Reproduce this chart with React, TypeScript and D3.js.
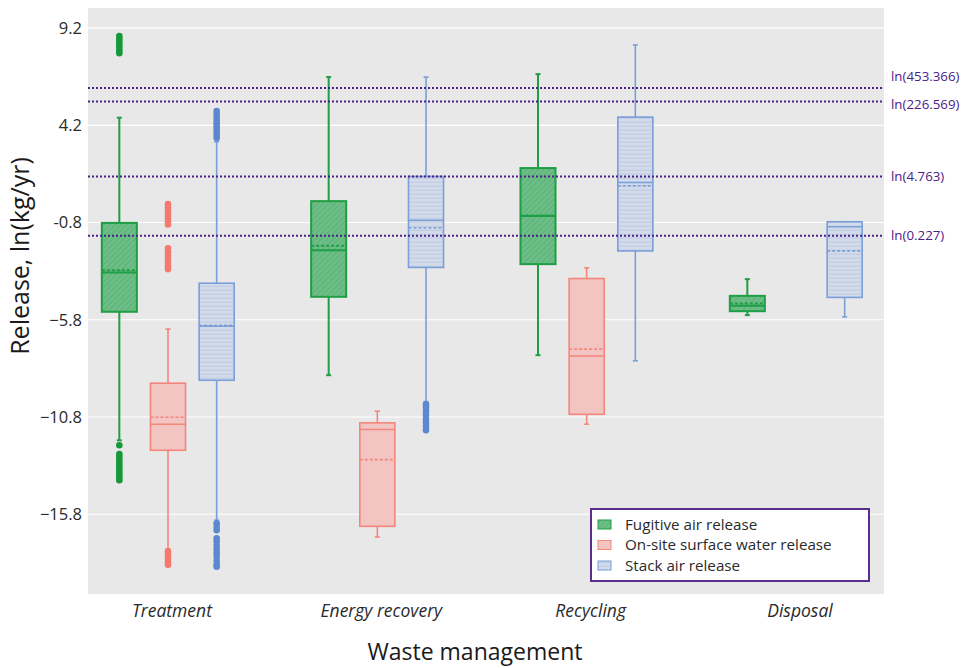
import React, { useEffect, useRef } from 'react';
import * as d3 from 'd3';

const categories = ['Treatment', 'Energy recovery', 'Recycling', 'Disposal'];
const seriesNames = ['Fugitive air release', 'On-site surface water release', 'Stack air release'];
const yTicks = [9.2, 4.2, -0.8, -5.8, -10.8, -15.8];
const yTickLabels = ['9.2', '4.2', '-0.8', '−5.8', '−10.8', '−15.8'];
const refValues = [453.366, 226.569, 4.763, 0.227];

// per category: [lower whisker, q1, median, mean, q3, upper whisker], null = no data
const fugitiveStats = [
  [-12.0, -5.39, -3.37, -3.26, -0.82, 4.59],
  [-8.65, -4.62, -2.22, -2.0, 0.3, 6.68],
  [-7.62, -2.94, -0.46, -0.44, 2.0, 6.83],
  [-5.56, -5.36, -5.08, -4.96, -4.57, -3.71],
];
const surfaceStats = [
  [-17.6, -12.51, -11.17, -10.81, -9.06, -6.28],
  [-16.97, -16.42, -11.44, -12.99, -11.1, -10.5],
  [-11.17, -10.66, -7.66, -7.31, -3.68, -3.13],
  null,
];
const stackStats = [
  [-16.1, -8.91, -6.13, -6.08, -3.92, 3.35],
  [-10.0, -3.11, -0.68, -1.07, 1.57, 6.68],
  [-7.91, -2.26, 1.26, 1.09, 4.62, 8.33],
  [-5.65, -4.65, -1.02, -2.26, -0.76, -0.76],
];

const fugitiveOutliers = [
  [8.79, 8.65, 8.5, 8.35, 8.2, 8.05, 7.9, -12.25, -12.7, -12.85, -13.0, -13.15, -13.3, -13.45, -13.6, -13.75, -13.9, -14.05],
  [], [], [],
];
const surfaceOutliers = [
  [0.15, 0.0, -0.15, -0.3, -0.45, -0.6, -0.75, -0.9, -2.12, -2.3, -2.5, -2.7, -2.9, -3.05, -3.2, -17.7, -17.85, -18.0, -18.15, -18.3, -18.4],
  [], [], [],
];
const stackOutliers = [
  [4.93, 4.78, 4.63, 4.47, 4.31, 4.15, 4.0, 3.85, 3.7, 3.55, -16.26, -16.45, -16.62, -17.03, -17.2, -17.4, -17.6, -17.8, -18.0, -18.2, -18.4, -18.5],
  [-10.14, -10.3, -10.5, -10.7, -10.9, -11.1, -11.3, -11.48],
  [], [],
];

const App = () => {
  const ref = useRef<SVGSVGElement>(null);

  useEffect(() => {
    if (!ref.current) return;
    const svg = d3.select(ref.current);
    svg.selectAll('*').remove();

    const plot = { left: 88, right: 884, top: 8, bottom: 594 };
    const font = "'Open Sans', 'Noto Sans', sans-serif";
    const purple = '#4b2188';

    const y = d3.scaleLinear().domain([-19.9, 10.23]).range([plot.bottom, plot.top]);
    const x = d3.scalePoint().domain(categories).range([plot.left + 80, plot.right - 88]);
    const sub = d3.scaleBand().domain(seriesNames).range([-73, 73]);
    const boxW = sub.bandwidth() * 0.72;

    // patterns
    const defs = svg.append('defs');
    const pg = defs.append('pattern').attr('id', 'hatchGreen').attr('patternUnits', 'userSpaceOnUse')
      .attr('width', 4).attr('height', 4).attr('patternTransform', 'rotate(45)');
    pg.append('rect').attr('width', 4).attr('height', 4).attr('fill', '#6cbd86');
    pg.append('line').attr('x1', 0).attr('y1', 0).attr('x2', 0).attr('y2', 4)
      .attr('stroke', '#55b073').attr('stroke-width', 1.5);
    const pb = defs.append('pattern').attr('id', 'hatchBlue').attr('patternUnits', 'userSpaceOnUse')
      .attr('width', 4).attr('height', 4);
    pb.append('rect').attr('width', 4).attr('height', 4).attr('fill', '#d3dbea');
    pb.append('path').attr('d', 'M0,3 L1,1.5 L2,3 L3,1.5 L4,3').attr('fill', 'none')
      .attr('stroke', '#bcc8e0').attr('stroke-width', 0.7);

    const styles = [
      { fill: 'url(#hatchGreen)', stroke: '#1f9e45', sw: 2, dot: '#16973a' },
      { fill: '#f2c5c2', stroke: '#f4867c', sw: 1.6, dot: '#f47a6f' },
      { fill: 'url(#hatchBlue)', stroke: '#7a9ed8', sw: 1.6, dot: '#5b88cf' },
    ];

    // background + grid
    svg.append('rect').attr('x', plot.left).attr('y', plot.top)
      .attr('width', plot.right - plot.left).attr('height', plot.bottom - plot.top).attr('fill', '#e8e8e8');
    svg.append('g').selectAll('line').data(yTicks).join('line')
      .attr('x1', plot.left).attr('x2', plot.right)
      .attr('y1', d => y(d)).attr('y2', d => y(d))
      .attr('stroke', '#ffffff').attr('stroke-width', 1.2);

    svg.append('g').selectAll('text').data(yTicks).join('text')
      .attr('x', 82).attr('y', d => y(d)).attr('dy', '0.35em')
      .attr('text-anchor', 'end').attr('font-family', font).attr('font-size', 16.5).attr('fill', '#2a2a2a')
      .text((d, i) => yTickLabels[i]);

    svg.append('g').selectAll('text').data(categories).join('text')
      .attr('x', d => (x(d) as number) + 4).attr('y', 611).attr('dy', '0.35em')
      .attr('text-anchor', 'middle').attr('font-family', font).attr('font-size', 17.5)
      .attr('font-style', 'italic').attr('fill', '#2a2a2a')
      .text(d => d);

    // boxes
    const allStats = [fugitiveStats, surfaceStats, stackStats];
    const allOut = [fugitiveOutliers, surfaceOutliers, stackOutliers];
    allStats.forEach((stats, si) => {
      const st = styles[si];
      const g = svg.append('g');
      stats.forEach((s, ci) => {
        if (!s) return;
        const cx = (x(categories[ci]) as number) + (sub(seriesNames[si]) as number) + sub.bandwidth() / 2;
        const [lo, q1, med, mean, q3, hi] = s;
        g.append('line').attr('x1', cx).attr('x2', cx).attr('y1', y(hi)).attr('y2', y(q3))
          .attr('stroke', st.stroke).attr('stroke-width', st.sw);
        g.append('line').attr('x1', cx).attr('x2', cx).attr('y1', y(q1)).attr('y2', y(lo))
          .attr('stroke', st.stroke).attr('stroke-width', st.sw);
        [lo, hi].forEach(v => {
          g.append('line').attr('x1', cx - 2.5).attr('x2', cx + 2.5).attr('y1', y(v)).attr('y2', y(v))
            .attr('stroke', st.stroke).attr('stroke-width', st.sw);
        });
        g.append('rect').attr('x', cx - boxW / 2).attr('y', y(q3))
          .attr('width', boxW).attr('height', y(q1) - y(q3))
          .attr('fill', st.fill).attr('stroke', st.stroke).attr('stroke-width', st.sw);
        g.append('line').attr('x1', cx - boxW / 2).attr('x2', cx + boxW / 2).attr('y1', y(med)).attr('y2', y(med))
          .attr('stroke', st.stroke).attr('stroke-width', st.sw);
        g.append('line').attr('x1', cx - boxW / 2).attr('x2', cx + boxW / 2).attr('y1', y(mean)).attr('y2', y(mean))
          .attr('stroke', st.stroke).attr('stroke-width', st.sw).attr('stroke-dasharray', '3,2');
        g.selectAll(null).data(allOut[si][ci]).join('circle')
          .attr('cx', cx).attr('cy', d => y(d)).attr('r', 3.3).attr('fill', st.dot);
      });
    });

    // reference lines
    const labelShift = [-12, 3, 0, 0];
    refValues.forEach((v, i) => {
      const yy = y(Math.log(v));
      svg.append('line').attr('x1', plot.left).attr('x2', plot.right).attr('y1', yy).attr('y2', yy)
        .attr('stroke', purple).attr('stroke-width', 2).attr('stroke-dasharray', '2,2');
      svg.append('text').attr('x', 891).attr('y', yy + labelShift[i]).attr('dy', '0.35em')
        .attr('font-family', font).attr('font-size', 13.3).attr('fill', purple)
        .text(`ln(${v})`);
    });

    // legend
    const lg = svg.append('g');
    lg.append('rect').attr('x', 591).attr('y', 509).attr('width', 278).attr('height', 72)
      .attr('fill', '#fff').attr('stroke', '#5b2d90').attr('stroke-width', 2);
    seriesNames.forEach((n, i) => {
      const yy = 524.5 + i * 20.5;
      lg.append('rect').attr('x', 598).attr('y', yy - 4.5).attr('width', 13).attr('height', 9)
        .attr('fill', styles[i].fill).attr('stroke', styles[i].stroke).attr('stroke-width', 1);
      lg.append('text').attr('x', 625).attr('y', yy).attr('dy', '0.35em')
        .attr('font-family', font).attr('font-size', 15.2).attr('fill', '#2a2a2a').text(n);
    });

    // titles
    svg.append('text').attr('transform', `translate(20,${(plot.top + plot.bottom) / 2 - 45}) rotate(-90)`)
      .attr('text-anchor', 'middle').attr('dy', '0.35em')
      .attr('font-family', font).attr('font-size', 25).attr('fill', '#1a1a1a')
      .text('Release, ln(kg/yr)');
    svg.append('text').attr('x', 475).attr('y', 652).attr('dy', '0.35em')
      .attr('text-anchor', 'middle')
      .attr('font-family', font).attr('font-size', 23).attr('fill', '#1a1a1a')
      .text('Waste management');
  }, []);

  return (
    <svg ref={ref} width={967} height={668} style={{ position: 'absolute', left: 0, top: 0, background: '#fff' }} />
  );
};

export default App;
